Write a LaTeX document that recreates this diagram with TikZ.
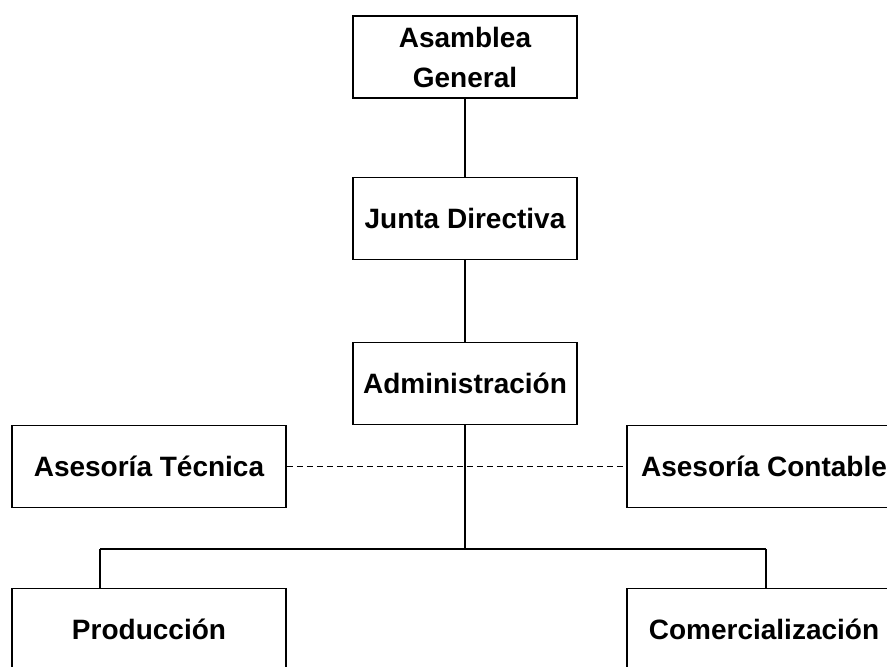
\documentclass[tikz,border=0pt]{standalone}
\usepackage{fontspec}
\setmainfont{Liberation Sans}

\begin{document}
\begin{tikzpicture}[x=0.5pt,y=-0.5pt,
  unit/.style={draw,line width=0.8pt,minimum width=112pt,minimum height=41pt,inner sep=0pt,align=center,font=\fontsize{14}{20}\selectfont\bfseries},
  staff/.style={unit,minimum width=137pt},
  link/.style={line width=0.6pt},
  advice/.style={line width=0.5pt,densely dashed}]
 \useasboundingbox (0,0) rectangle (887,667);
 \clip (0,0) rectangle (887,667);

 \node[unit] (asamblea) at (465,57) {Asamblea\\General};
 \node[unit] (junta) at (465,218.5) {Junta Directiva};
 \node[unit] (admin) at (465,383.5) {Administración};
 \node[staff] (tecnica) at (149,466.5) {Asesoría Técnica};
 \node[staff] (contable) at (764,466.5) {Asesoría Contable};
 \node[staff] (produccion) at (149,629.5) {Producción};
 \node[staff] (comercial) at (764,629.5) {Comercialización};

 \coordinate (branch) at (465,549);
 \coordinate (left drop) at (100,549);
 \coordinate (right drop) at (766,549);

 \draw[link] (asamblea) -- (junta);
 \draw[link] (junta) -- (admin);
 \draw[link] (admin) -- (branch);
 \draw[advice] (tecnica) -- (contable);
 \draw[link] (left drop) -- (right drop);
 \draw[link] (left drop) -- (left drop |- produccion.north);
 \draw[link] (right drop) -- (right drop |- comercial.north);
\end{tikzpicture}
\end{document}
